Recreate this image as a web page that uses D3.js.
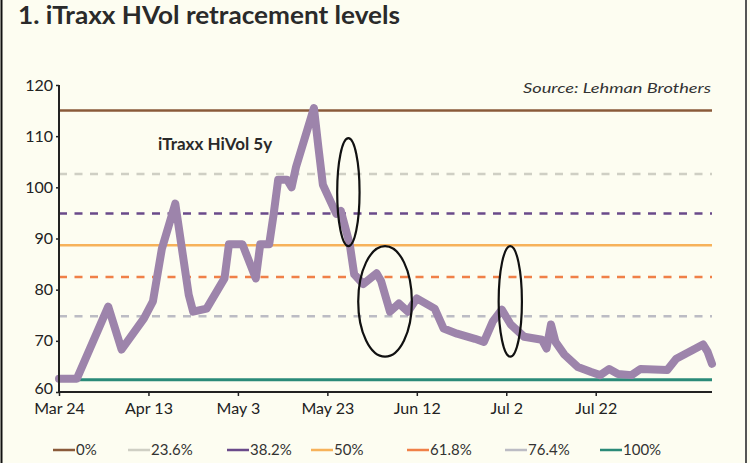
<!DOCTYPE html>
<html>
<head>
<meta charset="utf-8">
<script src="https://cdn.jsdelivr.net/npm/d3@7"></script>
<style>
  body { margin: 0; background: #fdfdf1; }
  svg { display: block; }
  text { font-family: Lato, "Open Sans", sans-serif; fill: #222; }
</style>
</head>
<body>
<svg id="chart" width="750" height="463"></svg>
<script>
// days after Mar 24 2005 and iTraxx HiVol 5y spread (bp)
const days = [0, 4, 11, 14, 19, 21, 23, 26, 29, 30, 33, 37, 38, 41, 44, 45, 47, 48, 49, 51, 52, 53,
  57, 58, 59, 62, 63, 65, 66, 68, 71, 72, 74, 76, 78, 80, 84, 86, 89, 93, 95, 97, 99, 101,
  104, 108, 109, 110, 111, 113, 116, 119, 121, 123, 125, 128, 130, 136, 138, 144, 145, 146];
const spread = [62.6, 62.6, 76.7, 68.3, 74.4, 77.7, 88, 96.8, 79, 75.7, 76.3, 82.2, 88.9, 88.9, 82.2, 88.9, 88.9, 94.8, 101.5, 101.5, 100, 104,
  115.5, 107.8, 100.5, 94.8, 95.4, 88.9, 83, 81.1, 83.2, 81.7, 75.7, 77.3, 75.7, 78.3, 76.3, 72.4, 71.4, 70.4, 69.8, 73.8, 76.1, 73.2,
  70.8, 70.2, 68.5, 73.2, 69.8, 67.3, 64.9, 63.9, 63.3, 64.5, 63.5, 63.3, 64.5, 64.3, 66.5, 69.3, 67.9, 65.5];

const xTickLabels = ["Mar 24", "Apr 13", "May 3", "May 23", "Jun 12", "Jul 2", "Jul 22"];
const yTicks = [60, 70, 80, 90, 100, 110, 120];

// retracement levels between the high and the low
const high = 115, low = 62.4;
const levelNames = ["0%", "23.6%", "38.2%", "50%", "61.8%", "76.4%", "100%"];
const levelPct = [0, 0.236, 0.382, 0.5, 0.618, 0.764, 1];
const levelColors = ["#8a5a3a", "#cfcfc4", "#6a4a8a", "#f7b25a", "#f08048", "#bcbcc4", "#2a8a78"];
const levelDashed = [false, true, true, false, true, true, false];

// annotation ellipses: centre day, half width in days, top and bottom value
const ringDay = [64.7, 72.9, 100.9];
const ringHalf = [2.5, 6, 2.6];
const ringTop = [109.6, 88.5, 88.5];
const ringBottom = [88.5, 66.9, 66.9];

const start = new Date(2005, 2, 24);
const toDate = d => d3.timeDay.offset(start, d);

const svg = d3.select("#chart");
const x = d3.scaleTime().domain([start, toDate(146)]).range([59, 712]);
const y = d3.scaleLinear().domain([60, 120]).range([392, 85]);
const xr = d => x(start) + d * (x(toDate(1)) - x(start));

// frame
svg.append("rect").attr("width", 750).attr("height", 463).attr("fill", "#fdfdf1");
svg.append("line").attr("x1", 1.5).attr("x2", 1.5).attr("y1", 0).attr("y2", 463)
  .attr("stroke", "#111").attr("stroke-width", 2);
svg.append("line").attr("x1", 746).attr("x2", 746).attr("y1", 0).attr("y2", 463)
  .attr("stroke", "#555").attr("stroke-width", 2);

// title
svg.append("text")
  .attr("x", 18).attr("y", 24)
  .attr("textLength", 382).attr("lengthAdjust", "spacingAndGlyphs")
  .style("font-size", "24px").style("font-weight", "bold").style("fill", "#2a2a2a")
  .text("1. iTraxx HVol retracement levels");

svg.append("text")
  .attr("x", 711).attr("y", 93).attr("text-anchor", "end")
  .attr("textLength", 188).attr("lengthAdjust", "spacingAndGlyphs")
  .style("font-size", "13px").style("font-style", "italic").style("fill", "#333")
  .text("Source: Lehman Brothers");

// retracement lines
levelPct.forEach((p, i) => {
  const v = high - p * (high - low);
  svg.append("line")
    .attr("x1", x.range()[0]).attr("x2", x.range()[1])
    .attr("y1", y(v)).attr("y2", y(v))
    .attr("stroke", levelColors[i])
    .attr("stroke-width", i === 6 ? 3 : 2.5)
    .attr("stroke-dasharray", levelDashed[i] ? "8,7.5" : null);
});

// series
const line = d3.line().x(d => x(toDate(d[0]))).y(d => y(d[1])).curve(d3.curveLinear);
svg.append("path")
  .datum(d3.zip(days, spread))
  .attr("d", line)
  .attr("fill", "none")
  .attr("stroke", "#9d84ab")
  .attr("stroke-width", 8)
  .attr("stroke-linejoin", "round")
  .attr("stroke-linecap", "round");

svg.append("text")
  .attr("x", 158).attr("y", 150)
  .style("font-size", "17px").style("font-weight", "bold").style("fill", "#2a2a2a")
  .text("iTraxx HiVol 5y");

// ellipses
ringDay.forEach((d, i) => {
  svg.append("ellipse")
    .attr("cx", xr(d))
    .attr("cy", (y(ringTop[i]) + y(ringBottom[i])) / 2)
    .attr("rx", xr(ringHalf[i]) - xr(0))
    .attr("ry", (y(ringBottom[i]) - y(ringTop[i])) / 2)
    .attr("fill", "none").attr("stroke", "#111").attr("stroke-width", 2.2);
});

// axes
const yAxis = svg.append("g").attr("transform", "translate(59,0)")
  .call(d3.axisLeft(y).tickValues(yTicks).tickSize(3).tickPadding(3));
const xAxis = svg.append("g").attr("transform", "translate(0,392)")
  .call(d3.axisBottom(x).tickValues(xTickLabels.map((t, i) => toDate(i * 20)))
    .tickFormat((d, i) => xTickLabels[i]).tickSize(4).tickPadding(4));
[yAxis, xAxis].forEach(g => {
  g.select(".domain").attr("stroke", "#222").attr("stroke-width", 2);
  g.selectAll(".tick line").attr("stroke", "#222").attr("stroke-width", 1.5);
  g.selectAll("text").style("font-family", "Lato, sans-serif").style("font-size", "16px")
    .attr("fill", "#2a2a2a");
});
yAxis.select(".domain").attr("d", "M0,85V392");
xAxis.select(".domain").attr("d", "M59,0H712");
xAxis.selectAll("text").attr("y", 22).attr("dy", 0);
yAxis.selectAll(".tick").filter(d => d === 60).select("text").attr("dy", "0.1em");

// legend
const legX = [53, 128, 227, 311, 407, 505, 600];
const leg = svg.append("g").selectAll("g").data(levelNames).join("g")
  .attr("transform", (d, i) => `translate(${legX[i]},450)`);
leg.append("line").attr("x1", 0).attr("x2", 22)
  .attr("stroke", (d, i) => levelColors[i]).attr("stroke-width", 2.5);
leg.append("text").attr("x", 23).attr("y", 5)
  .style("font-size", "15px").style("fill", "#333")
  .text(d => d);
</script>
</body>
</html>
